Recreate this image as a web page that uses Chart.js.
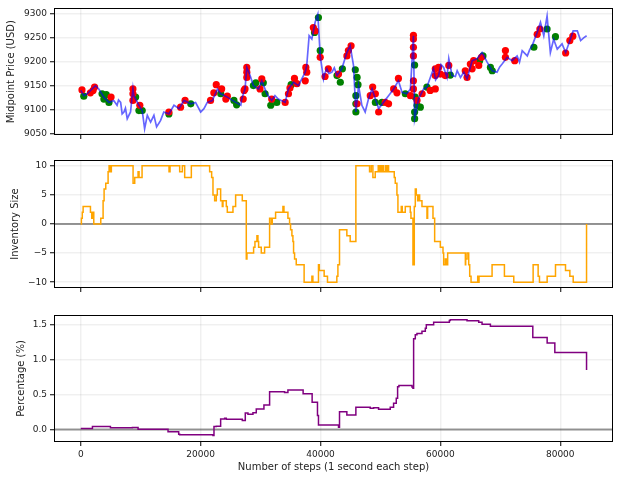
<!DOCTYPE html>
<html>
<head>
<meta charset="utf-8">
<script src="https://cdn.jsdelivr.net/npm/chart.js@4.4.0/dist/chart.umd.min.js"></script>
<style>
  html, body { margin: 0; padding: 0; background: #fff; }
  #wrap { position: relative; width: 618px; height: 480px; }
  canvas { position: absolute; left: 0; }
</style>
</head>
<body>
<div id="wrap">
  <canvas id="cPrice" width="618" height="150" style="top:0px"></canvas>
  <canvas id="cInv" width="618" height="150" style="top:150px"></canvas>
  <canvas id="cPct" width="618" height="180" style="top:300px"></canvas>
</div>
<script>
// ejes compartidos
const X_MIN = -4470, X_MAX = 88800;
const xTicks = [0, 20000, 40000, 60000, 80000];
const priceTicks = [9050, 9100, 9150, 9200, 9250, 9300];
const invTicks = [-10, -5, 0, 5, 10];
const pctTicks = [0, 0.5, 1.0, 1.5];

// precio medio
const priceSteps = [0, 500, 1050, 2450, 3000, 3850, 4700, 5500, 6050, 6300, 6650, 6900, 7200, 7450, 7750, 8300, 8700, 8850,
  9700, 10250, 10650, 11100, 11650, 12200, 12650, 13300, 13850, 14700, 15550, 16400, 17200, 18350, 19150,
  20000, 20550, 21100, 21950, 22800, 23350, 24450, 25850, 26700, 26850, 27400, 27700, 28250, 28800, 29650,
  30200, 31050, 31850, 32400, 32950, 34100, 34650, 35500, 36300, 37450, 37700, 38100, 38550, 39100, 39550,
  39950, 40500, 40750, 41050, 41400, 41900, 42300, 42750, 43550, 44400, 44950, 45500, 45900, 46350, 46900, 47450, 48000, 48600,
  49150, 49700, 50500, 51350, 52200, 53000, 53600, 54400, 55000, 55500, 55700, 56350, 57200, 57750, 58850,
  59200, 59700, 60100, 60550, 61100, 61400, 61950, 62500, 62800, 63350, 63900, 64450, 65300, 66100, 66950, 67800, 68650, 69450,
  69900, 70300, 71150, 71950, 72800, 73200, 73650, 74500, 74900, 75300, 76150, 76700, 77250, 77800, 78350, 78900, 79500, 80300,
  80900, 81700, 82150, 82850, 83400, 83950, 84400];
const priceValues = [9141, 9130, 9134, 9151, 9144, 9127, 9116, 9120, 9110, 9121, 9116, 9092, 9096, 9104, 9082, 9096, 9145, 9130,
  9110, 9099, 9061, 9089, 9075, 9089, 9065, 9078, 9096, 9092, 9110, 9103, 9120, 9113, 9116,
  9096, 9103, 9116, 9120, 9144, 9134, 9127, 9116, 9110, 9123, 9144, 9189, 9172, 9151, 9144,
  9161, 9134, 9120, 9130, 9123, 9116, 9144, 9158, 9151, 9179, 9193, 9255, 9248, 9283, 9300,
  9213, 9165, 9178, 9186, 9176, 9179, 9188, 9172, 9186, 9220, 9234, 9193, 9096, 9151, 9110, 9096, 9123, 9144,
  9123, 9103, 9116, 9130, 9144, 9161, 9137, 9134, 9144, 9255, 9082, 9123, 9144, 9148, 9186,
  9163, 9172, 9195, 9189, 9168, 9207, 9172, 9170, 9182, 9168, 9179, 9165, 9203, 9207, 9220, 9200, 9182, 9179,
  9190, 9196, 9210, 9203, 9213, 9200, 9224, 9213, 9226, 9234, 9262, 9283, 9255, 9296, 9220, 9248, 9227, 9238,
  9220, 9248, 9265, 9265, 9245, 9251, 9255];

// operaciones (puntos rojos y verdes)
const redSteps = [200, 1600, 2050, 2300, 5050, 8700, 8700, 8700, 9850, 14700, 16650, 17400, 21650, 22200, 22600,
  23500, 24450, 24200, 27250, 27100, 27700, 27700, 27700, 27400, 29900, 30200, 31850, 34100, 34650, 34900,
  35650, 36050, 37450, 37550, 37700, 38800, 39100, 39950, 40750, 41300, 43000, 44400, 44650, 45100, 46100,
  48300, 48700, 49150, 49700, 50800, 51350, 52200, 53000, 52750, 55000, 55500, 55500, 55500, 55500, 55500,
  55500, 56100, 56950, 58300, 59150, 59150, 59150, 59700, 60000, 60800, 61400, 64150, 64450, 65000, 65300,
  65550, 66400, 66850, 70850, 70850, 72400, 76150, 76600, 80900, 81600, 82100];
const redPrices = [9142, 9136, 9141, 9148, 9127, 9144, 9134, 9120, 9110, 9096, 9106, 9120, 9120, 9136, 9153,
  9144, 9129, 9123, 9141, 9123, 9189, 9179, 9168, 9144, 9144, 9165, 9123, 9116, 9134, 9146,
  9166, 9155, 9161, 9189, 9179, 9272, 9265, 9210, 9170, 9186, 9175, 9213, 9224, 9234, 9113,
  9130, 9148, 9134, 9096, 9116, 9113, 9144, 9166, 9136, 9130, 9256, 9248, 9231, 9213, 9161,
  9144, 9120, 9134, 9141, 9144, 9186, 9172, 9189, 9175, 9172, 9193, 9182, 9168, 9196, 9186,
  9203, 9193, 9210, 9224, 9210, 9203, 9258, 9269, 9219, 9245, 9254];
const greenSteps = [500, 3550, 3850, 4250, 4700, 9150, 9700, 10250, 14700, 18350, 23350, 25550, 26000, 28800, 29200,
  30450, 30750, 31700, 32700, 35100, 39000, 39650, 39950, 42750, 43300, 43650, 45800, 46100, 46250, 45900,
  45900, 45900, 49150, 50250, 54150, 55700, 55800, 56100, 55700, 55700, 56650, 57750, 61650, 66550, 67100,
  68350, 68650, 75600, 77800, 79200];
const greenPrices = [9129, 9134, 9123, 9132, 9116, 9127, 9099, 9099, 9092, 9113, 9134, 9120, 9111, 9151, 9157,
  9157, 9134, 9110, 9116, 9153, 9262, 9293, 9224, 9172, 9158, 9186, 9184, 9168, 9153, 9130,
  9113, 9096, 9116, 9116, 9134, 9194, 9127, 9110, 9096, 9082, 9106, 9148, 9173, 9203, 9213,
  9189, 9182, 9231, 9269, 9253];

// inventario (escalones: el valor vale desde su paso hasta el siguiente)
const invSteps = [0, 100, 250, 389, 1611, 1833, 1950, 2167, 3333, 3722, 3889, 4167, 4556, 4722, 4945, 5100,
  8723, 9000, 9556, 9723, 10223, 14723, 14890, 16500, 16945, 17334, 18445, 21500, 21834, 22056, 22334,
  22612, 22779, 23334, 23612, 23723, 24279, 24446, 25390, 25835, 26946, 27613, 27724, 28835, 29058, 29391,
  29558, 29669, 30114, 30670, 31503, 31781, 31947, 32503, 33726, 33900, 34559, 34837, 35003, 35225, 35392,
  35503, 35670, 35948, 37263, 38559, 38725, 39659, 39800, 40605, 41162, 42722, 42900, 43168, 44393, 44950,
  45897, 48181, 48459, 48738, 49128, 49629, 49796, 49963, 50130, 50353, 50520, 50854, 50966, 51188, 51356,
  52302, 52470, 52748, 52915, 53472, 53639, 54141, 54976, 55087, 55422, 55644, 55812, 55979, 56202, 56369,
  56536, 56926, 57761, 57873, 58764, 59042, 59989, 60435, 60546, 60825, 60992, 61215, 64167, 64222, 64445,
  64724, 64891, 65114, 66228, 66283, 66450, 66800, 68623, 70683, 72243, 75474, 76309, 76532, 77813, 79206,
  80877, 81601, 82158, 84386];
const invValues = [0, 1, 2, 3, 2, 1, 2, 0, 1, 4, 6, 7, 9, 10, 9, 10,
  7, 8, 9, 8, 10, 9, 10, 9, 10, 8, 10, 9, 8, 5, 4,
  5, 6, 4, 3, 4, 3, 2, 3, 5, 4, -6, -5, -4, -3, -2,
  -3, -4, -5, -4, 1, 0, 1, 2, 3, 2, 1, 0, -1, -2, -3,
  -5, -6, -7, -10, -9, -10, -7, -8, -9, -10, -9, -7, -1, -2, -3,
  10, 9, 10, 8, 9, 10, 9, 10, 9, 10, 9, 10, 9, 10, 9,
  8, 7, 5, 2, 3, 2, 3, 2, 1, -7, 3, 6, 5, 4, 5,
  4, 3, 1, 3, 1, -3, -4, -5, -7, -6, -7, -5, -7, -6, -5,
  -7, -9, -10, -9, -10, -9, -9, -7, -9, -10, -7, -9, -10, -9, -7,
  -8, -9, -10, 0];

// rentabilidad acumulada (%)
const pctSteps = [0, 1945, 4945, 8612, 9556, 14556, 16334, 16500, 22056, 22223, 22612, 23334, 24001, 24279, 26946,
  27446, 27891, 28724, 29280, 30558, 31503, 34003, 34559, 37096, 38600, 39491, 39659, 43000, 43168, 44393,
  45897, 48292, 48850, 49685, 51634, 52191, 52637, 52860, 53082, 55255, 55422, 55533, 55812, 56090, 56926,
  57483, 57650, 58875, 61493, 61660, 64445, 66395, 66952, 68344, 75418, 77813, 79094, 84386];
const pctValues = [0.014, 0.043, 0.024, 0.03, 0.005, -0.033, -0.066, -0.075, -0.085, 0.043, 0.048, 0.152, 0.16, 0.147, 0.13,
  0.237, 0.218, 0.24, 0.294, 0.351, 0.541, 0.53, 0.565, 0.513, 0.389, 0.2, 0.066, 0.033, 0.256, 0.209,
  0.318, 0.305, 0.31, 0.29, 0.318, 0.375, 0.446, 0.612, 0.631, 0.61, 0.589, 1.30, 1.357, 1.372, 1.405,
  1.45, 1.5, 1.533, 1.56, 1.571, 1.557, 1.533, 1.505, 1.476, 1.315, 1.239, 1.101, 0.85];

Chart.defaults.font.family = "'DejaVu Sans', sans-serif";
Chart.defaults.color = '#222';

const toXY = (xs, ys) => xs.map((x, i) => ({x: x, y: ys[i]}));
const minus = v => String(v).replace('-', '\u2212');

// marco negro completo alrededor del area de trazado
const frame = {
  id: 'frame',
  afterDraw(chart) {
    const {ctx, chartArea: a} = chart;
    ctx.save();
    ctx.strokeStyle = '#000';
    ctx.lineWidth = 1;
    ctx.strokeRect(Math.round(a.left) + 0.5, Math.round(a.top) + 0.5,
      Math.round(a.right - a.left) - 1, Math.round(a.bottom - a.top) - 1);
    ctx.restore();
  }
};

const gridOpts = {color: 'rgba(0,0,0,0.06)', lineWidth: 1.5, tickColor: '#000', tickWidth: 1, tickLength: 4};

function xScale(axisHeight, showLabels) {
  return {
    type: 'linear', min: X_MIN, max: X_MAX,
    afterBuildTicks: ax => { ax.ticks = xTicks.map(v => ({value: v})); },
    afterFit: ax => { ax.height = axisHeight; },
    grid: gridOpts,
    border: {display: false},
    ticks: {
      color: showLabels ? '#222' : 'rgba(0,0,0,0)',
      font: {size: 9}, padding: 3, maxRotation: 0, autoSkip: false,
      callback: v => String(v)
    },
    title: {
      display: showLabels, text: 'Number of steps (1 second each step)',
      font: {size: 10}, color: '#222', padding: {top: 2, bottom: 4}
    }
  };
}

function yScale(width, lo, hi, ticks, fmt, label) {
  return {
    min: lo, max: hi,
    afterBuildTicks: ax => { ax.ticks = ticks.map(v => ({value: v})); },
    afterFit: ax => { ax.width = width; },
    grid: gridOpts,
    border: {display: false},
    ticks: {font: {size: 9}, padding: 3, autoSkip: false, callback: fmt},
    title: {display: true, text: label, font: {size: 10}, color: '#222', padding: {top: 4, bottom: 4}}
  };
}

function baseOptions(padding, x, y) {
  return {
    responsive: false,
    animation: false,
    layout: {padding: padding},
    plugins: {legend: {display: false}, tooltip: {enabled: false}},
    scales: {x: x, y: y}
  };
}

const zeroLine = [{x: X_MIN, y: 0}, {x: X_MAX, y: 0}];

// panel 1: precio
new Chart(document.getElementById('cPrice'), {
  type: 'line',
  data: {
    datasets: [
      {data: toXY(priceSteps, priceValues), borderColor: 'rgba(0,0,255,0.6)', borderWidth: 1.7,
       pointRadius: 0, tension: 0, order: 0},
      {data: toXY(redSteps, redPrices), showLine: false, pointRadius: 3.6, pointBorderWidth: 0,
       pointBackgroundColor: '#ff0000', order: 1},
      {data: toXY(greenSteps, greenPrices), showLine: false, pointRadius: 3.6, pointBorderWidth: 0,
       pointBackgroundColor: '#008000', order: 2}
    ]
  },
  options: baseOptions({left: 1, right: 5, top: 7, bottom: 0},
    xScale(15, false),
    yScale(53, 9048, 9312, priceTicks, v => String(v), 'Midpoint Price (USD)')),
  plugins: [frame]
});

// panel 2: inventario
new Chart(document.getElementById('cInv'), {
  type: 'line',
  data: {
    datasets: [
      {data: toXY(invSteps, invValues), borderColor: '#ffa500', borderWidth: 1.5,
       pointRadius: 0, stepped: 'before', order: 0},
      {data: zeroLine, borderColor: 'rgba(0,0,0,0.4)', borderWidth: 2, pointRadius: 0, order: 5}
    ]
  },
  options: baseOptions({left: 5, right: 5, top: 10, bottom: 0},
    xScale(12, false),
    yScale(49, -11, 11, invTicks, v => minus(v), 'Inventory Size')),
  plugins: [frame]
});

// panel 3: porcentaje
new Chart(document.getElementById('cPct'), {
  type: 'line',
  data: {
    datasets: [
      {data: toXY(pctSteps, pctValues), borderColor: '#800080', borderWidth: 1.5,
       pointRadius: 0, stepped: 'before', order: 0},
      {data: zeroLine, borderColor: 'rgba(0,0,0,0.4)', borderWidth: 2, pointRadius: 0, order: 5}
    ]
  },
  options: baseOptions({left: 11, right: 5, top: 15, bottom: 3},
    xScale(35, true),
    yScale(43, -0.178, 1.638, pctTicks, v => v.toFixed(1), 'Percentage (%)')),
  plugins: [frame]
});
</script>
</body>
</html>
